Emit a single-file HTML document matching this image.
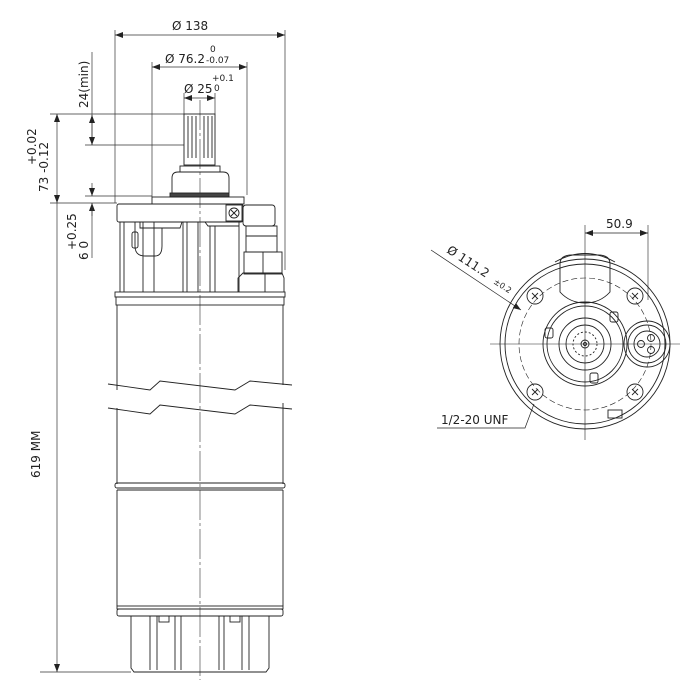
<!DOCTYPE html>
<html><head><style>
html,body{margin:0;padding:0;background:#fff;}
svg{display:block;}
text{font-family:"DejaVu Sans","Liberation Sans",sans-serif;fill:#222;}
</style></head><body>
<svg width="689" height="687" viewBox="0 0 689 687" xmlns="http://www.w3.org/2000/svg">
<defs>
<marker id="a" markerWidth="8" markerHeight="6" refX="8" refY="3" orient="auto-start-reverse" markerUnits="userSpaceOnUse"><path d="M0,0 L8,3 L0,6 z" fill="#222"/></marker>
</defs>
<g stroke="#333" stroke-width="0.7" fill="none">
<!-- extension lines -->
<line x1="115" y1="30" x2="115" y2="203"/>
<line x1="285" y1="30" x2="285" y2="270"/>
<line x1="152" y1="62" x2="152" y2="197"/>
<line x1="247" y1="62" x2="247" y2="195"/>
<line x1="184" y1="93" x2="184" y2="114"/>
<line x1="215" y1="93" x2="215" y2="114"/>
<line x1="50" y1="114" x2="184" y2="114"/>
<line x1="85" y1="145" x2="184" y2="145"/>
<line x1="85" y1="196" x2="152" y2="196"/>
<line x1="50" y1="203" x2="117" y2="203"/>
<line x1="40" y1="672" x2="131" y2="672"/>
<!-- dimension lines -->
<line x1="115" y1="35" x2="285" y2="35" marker-start="url(#a)" marker-end="url(#a)"/>
<line x1="152" y1="67" x2="247" y2="67" marker-start="url(#a)" marker-end="url(#a)"/>
<line x1="184" y1="98" x2="215" y2="98" marker-start="url(#a)" marker-end="url(#a)"/>
<line x1="92" y1="52" x2="92" y2="145" />
<line x1="92" y1="115" x2="92" y2="145" marker-start="url(#a)" marker-end="url(#a)"/>
<line x1="57" y1="114" x2="57" y2="203" marker-start="url(#a)" marker-end="url(#a)"/>
<line x1="92" y1="183" x2="92" y2="196" marker-end="url(#a)"/>
<line x1="92" y1="216" x2="92" y2="203" marker-end="url(#a)"/>
<line x1="92" y1="203" x2="92" y2="258"/>
<line x1="57" y1="203" x2="57" y2="672" marker-end="url(#a)"/>
<!-- centerline -->
<line x1="200" y1="100" x2="200" y2="680" stroke-dasharray="30,3,3,3" stroke-width="0.6"/>
</g>
<g stroke="#222" stroke-width="0.9" fill="none">
<!-- spline shaft -->
<rect x="184" y="114" width="31" height="51"/>
<line x1="188" y1="116" x2="188" y2="158"/><line x1="192" y1="116" x2="192" y2="158"/><line x1="196" y1="116" x2="196" y2="158"/><line x1="204" y1="116" x2="204" y2="158"/><line x1="208" y1="116" x2="208" y2="158"/><line x1="212" y1="116" x2="212" y2="158"/>
<rect x="180" y="166" width="40" height="6"/>
<path d="M172,193 L172,178 Q172,172 178,172 L223,172 Q229,172 229,178 L229,193"/>
<rect x="170" y="193" width="59" height="4" fill="#444"/>
<rect x="152" y="197" width="92" height="7"/>
<!-- flange -->
<rect x="117" y="204" width="126" height="18" rx="2"/>
<rect x="226" y="205" width="16" height="16"/>
<circle cx="234" cy="213" r="5"/>
<line x1="231" y1="210" x2="237" y2="216"/><line x1="237" y1="210" x2="231" y2="216"/>
<!-- chassis -->
<line x1="120" y1="222" x2="120" y2="292"/>
<line x1="124" y1="222" x2="124" y2="292"/>
<line x1="143" y1="222" x2="143" y2="292"/>
<line x1="154" y1="222" x2="154" y2="292"/>
<line x1="183" y1="222" x2="183" y2="292"/>
<line x1="187" y1="222" x2="187" y2="292"/>
<line x1="198" y1="222" x2="198" y2="292"/>
<line x1="210" y1="226" x2="210" y2="292"/>
<line x1="215" y1="226" x2="215" y2="292"/>
<line x1="239" y1="222" x2="239" y2="292"/>
<path d="M135,222 L135,246 Q135,256 145,256 L155,256 Q162,256 162,246 L162,228"/>
<rect x="132" y="232" width="6" height="16" rx="2"/>
<path d="M140,222 L140,228 L180,228 L182,222"/>
<path d="M205,222 L208,226 L239,226"/>
<!-- connector -->
<rect x="243" y="205" width="32" height="21" rx="3"/>
<rect x="246" y="226" width="31" height="26"/>
<line x1="246" y1="236" x2="277" y2="236"/>
<rect x="244" y="252" width="38" height="22"/>
<line x1="263" y1="252" x2="263" y2="274"/>
<path d="M238,292 L238,278 L243,273 L282,273 L284,278 L284,292"/>
<line x1="265" y1="273" x2="265" y2="292"/>
<!-- ring -->
<rect x="115" y="292" width="170" height="5"/>
<rect x="116" y="297" width="168" height="8"/>
<!-- body -->
<line x1="117" y1="305" x2="117" y2="390"/>
<line x1="283" y1="305" x2="283" y2="385"/>
<line x1="117" y1="408" x2="117" y2="484"/>
<line x1="283" y1="403" x2="283" y2="484"/>
<path d="M108,384 L150,390 L160,381 L235,390 L250,381 L292,385"/>
<path d="M108,408 L150,414 L160,405 L235,414 L250,405 L292,409"/>
<rect x="115" y="483" width="170" height="5" rx="2"/>
<line x1="117" y1="490" x2="283" y2="490"/>
<line x1="117" y1="490" x2="117" y2="606"/>
<line x1="283" y1="490" x2="283" y2="606"/>
<rect x="117" y="606" width="166" height="3"/>
<rect x="117" y="609" width="166" height="7" rx="2"/>
<!-- base -->
<path d="M131,616 L131,668 L134,672 L266,672 L269,668 L269,616"/>
<line x1="150" y1="616" x2="150" y2="670"/><line x1="157" y1="616" x2="157" y2="670"/>
<line x1="175" y1="616" x2="175" y2="670"/><line x1="181" y1="616" x2="181" y2="670"/>
<line x1="219" y1="616" x2="219" y2="670"/><line x1="224" y1="616" x2="224" y2="670"/>
<line x1="242" y1="616" x2="242" y2="670"/><line x1="249" y1="616" x2="249" y2="670"/>
<rect x="159" y="616" width="10" height="6"/><rect x="230" y="616" width="10" height="6"/>
</g>
<!-- texts left -->
<text x="172" y="30" font-size="12">Ø 138</text>
<text x="165" y="63" font-size="12">Ø 76.2</text>
<text x="210" y="52" font-size="9">0</text>
<text x="206" y="63" font-size="9">-0.07</text>
<text x="184" y="93" font-size="12">Ø 25</text>
<text x="212" y="81" font-size="9">+0.1</text>
<text x="214" y="91" font-size="9">0</text>
<text transform="translate(88,108) rotate(-90)" font-size="12">24(min)</text>
<text transform="translate(48,192) rotate(-90)" font-size="12">73 -0.12</text>
<text transform="translate(36,165) rotate(-90)" font-size="12">+0.02</text>
<text transform="translate(88,260) rotate(-90)" font-size="12">6  0</text>
<text transform="translate(76,250) rotate(-90)" font-size="12">+0.25</text>
<text transform="translate(40,478) rotate(-90)" font-size="12">619 MM</text>
<!-- right view -->
<g stroke="#222" stroke-width="0.9" fill="none">
<line x1="585" y1="225" x2="585" y2="440" stroke-width="0.6"/>
<line x1="490" y1="344" x2="680" y2="344" stroke-width="0.6"/>
<line x1="648" y1="225" x2="648" y2="300" stroke-width="0.6"/>
<line x1="585" y1="233" x2="648" y2="233" marker-start="url(#a)" marker-end="url(#a)" stroke-width="0.7"/>
<circle cx="585" cy="344" r="85"/>
<circle cx="585" cy="344" r="80"/>
<circle cx="585" cy="344" r="66" stroke-dasharray="6,3" stroke-width="0.6"/>
<path d="M560,264 Q560,255 572,255 L598,255 Q610,255 610,264 L610,292 Q600,303 585,303 Q570,303 560,292 Z"/>
<path d="M555,262 Q585,245 615,262"/>
<circle cx="585" cy="344" r="42"/>
<circle cx="585" cy="344" r="38"/>
<circle cx="585" cy="344" r="26"/>
<circle cx="585" cy="344" r="19"/>
<circle cx="585" cy="344" r="12" stroke-dasharray="2,2"/>
<circle cx="585" cy="344" r="4"/>
<circle cx="585" cy="344" r="1.5"/>
<rect x="545" y="328" width="8" height="10" rx="2"/>
<rect x="610" y="312" width="8" height="10" rx="2"/>
<rect x="590" y="373" width="8" height="10" rx="2"/>
<circle cx="647" cy="344" r="23"/>
<circle cx="647" cy="344" r="19"/>
<circle cx="647" cy="344" r="13"/>
<circle cx="641" cy="344" r="3.5"/><circle cx="651" cy="338" r="3.5"/><circle cx="651" cy="350" r="3.5"/>
<g>
<circle cx="535" cy="296" r="8"/><circle cx="635" cy="296" r="8"/><circle cx="535" cy="392" r="8"/><circle cx="635" cy="392" r="8"/>
<path d="M532,293 l6,6 m0,-6 l-6,6 M632,293 l6,6 m0,-6 l-6,6 M532,389 l6,6 m0,-6 l-6,6 M632,389 l6,6 m0,-6 l-6,6"/>
</g>
<rect x="608" y="410" width="14" height="8"/>
<line x1="431" y1="250" x2="521" y2="310" marker-end="url(#a)" stroke-width="0.7"/>
<path d="M437,428 L525,428 L534,404" stroke-width="0.7"/>
</g>
<text x="606" y="228" font-size="12">50.9</text>
<text transform="translate(446,252) rotate(33)" font-size="12">Ø 111.2</text>
<text transform="translate(493,283) rotate(33)" font-size="8">±0.2</text>
<text x="441" y="424" font-size="12">1/2-20 UNF</text>
</svg>
</body></html>
